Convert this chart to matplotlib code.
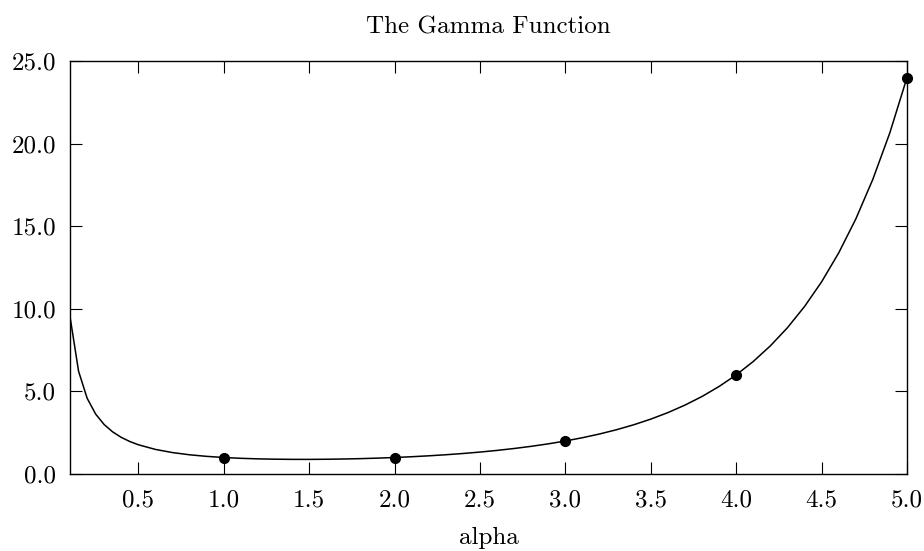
import matplotlib
matplotlib.use("Agg")
import matplotlib.pyplot as plt
from matplotlib.ticker import FormatStrFormatter

# values
alpha = [0.10, 0.15, 0.20, 0.25, 0.30, 0.35, 0.40, 0.45, 0.50,
         0.6, 0.7, 0.8, 0.9, 1.0, 1.1, 1.2, 1.3, 1.4, 1.5, 1.6, 1.7, 1.8, 1.9, 2.0,
         2.1, 2.2, 2.3, 2.4, 2.5, 2.6, 2.7, 2.8, 2.9, 3.0,
         3.1, 3.2, 3.3, 3.4, 3.5, 3.6, 3.7, 3.8, 3.9, 4.0,
         4.1, 4.2, 4.3, 4.4, 4.5, 4.6, 4.7, 4.8, 4.9, 5.0]
gamma_vals = [9.514, 6.220, 4.591, 3.626, 2.992, 2.546, 2.218, 1.968, 1.772,
              1.489, 1.298, 1.164, 1.069, 1.000, 0.951, 0.918, 0.898, 0.887, 0.886,
              0.894, 0.909, 0.931, 0.962, 1.000,
              1.047, 1.102, 1.167, 1.242, 1.329, 1.430, 1.545, 1.677, 1.827, 2.000,
              2.198, 2.424, 2.683, 2.981, 3.323, 3.717, 4.171, 4.694, 5.300, 6.000,
              6.813, 7.757, 8.855, 10.137, 11.632, 13.381, 15.431, 17.838, 20.668, 24.000]

int_alpha = [1, 2, 3, 4, 5]
int_gamma = [1, 1, 2, 6, 24]

xticks = [0.5, 1.0, 1.5, 2.0, 2.5, 3.0, 3.5, 4.0, 4.5, 5.0]
yticks = [0.0, 5.0, 10.0, 15.0, 20.0, 25.0]

plt.rcParams["font.family"] = ["cmr10", "DejaVu Serif"]
plt.rcParams["axes.formatter.use_mathtext"] = True
plt.rcParams["mathtext.fontset"] = "cm"

fig = plt.figure(figsize=(9.24, 5.51), dpi=100)
ax = fig.add_axes([0.0758, 0.1397, 0.9058, 0.7496])

ax.plot(alpha, gamma_vals, color="black", linewidth=1.1)
ax.plot(int_alpha, int_gamma, "o", color="black", markersize=7, clip_on=False, zorder=3)

ax.set_xlim(0.1, 5.0)
ax.set_ylim(0.0, 25.0)
ax.set_xticks(xticks)
ax.set_yticks(yticks)
ax.xaxis.set_major_formatter(FormatStrFormatter("%.1f"))
ax.yaxis.set_major_formatter(FormatStrFormatter("%.1f"))
ax.tick_params(direction="in", length=8.5, width=0.8, top=True, right=True,
               labelsize=18)
ax.tick_params(axis="x", pad=11)
ax.tick_params(axis="y", pad=10)
for s in ax.spines.values():
    s.set_linewidth(1.0)

ax.set_title("The Gamma Function", fontsize=18, pad=19.5)
ax.set_xlabel("alpha", fontsize=18, labelpad=11)

fig.savefig("out.png", dpi=100, facecolor="white")
